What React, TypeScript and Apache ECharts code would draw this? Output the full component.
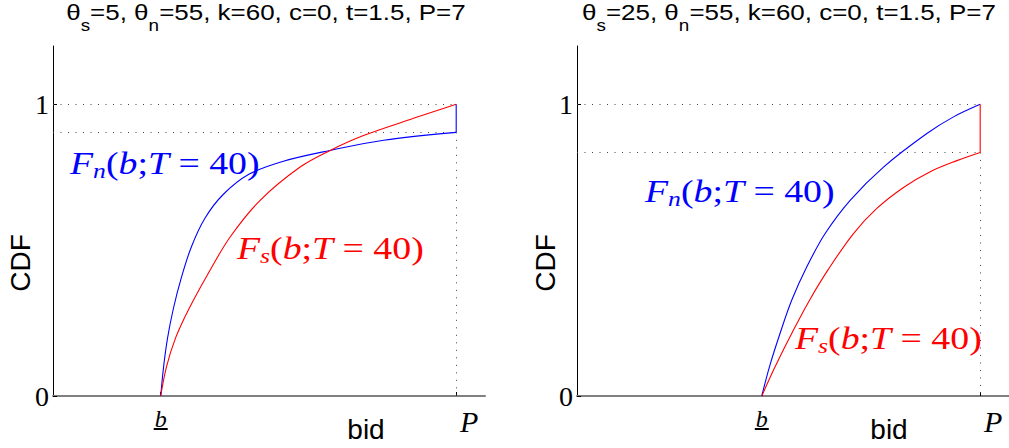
import React, { useEffect, useRef } from "react";
import * as echarts from "echarts";

// Shared model parameters
const P = 7;
const kParam = 60;
const cParam = 0;
const tParam = 1.5;
const thetaN = 55;
const thetaSValues = [5, 25];

// Axis ranges
const bidMax = 7.5;
const cdfMax = 1.2;
const cdfTicks = [0, 1];

// Panel A (θs = 5): lowest bid and both CDFs
const lowBidA = 1.87;
const bidNA = [1.87, 1.92, 1.99, 2.09, 2.22, 2.4, 2.64, 2.95, 3.4, 4.0, 4.81, 5.74, 7.0];
const cdfNA = [0, 0.1, 0.2, 0.3, 0.4, 0.51, 0.61, 0.69, 0.76, 0.805, 0.842, 0.877, 0.904];
const bidSA = [1.87, 1.97, 2.13, 2.35, 2.68, 3.075, 3.596, 4.29, 4.812, 5.39, 6.259, 7.0];
const cdfSA = [0, 0.1, 0.2, 0.295, 0.415, 0.545, 0.671, 0.785, 0.842, 0.893, 0.952, 1.0];

// Panel B (θs = 25)
const lowBidB = 3.208;
const bidNB = [3.208, 3.341, 3.526, 3.729, 3.99, 4.308, 4.742, 5.321, 6.074, 6.537, 7.0];
const cdfNB = [0, 0.1, 0.215, 0.329, 0.443, 0.557, 0.671, 0.785, 0.9, 0.957, 1.0];
const bidSB = [3.208, 3.439, 3.758, 4.047, 4.366, 4.8, 5.205, 5.668, 6.132, 6.595, 7.0];
const cdfSB = [0, 0.1, 0.226, 0.332, 0.435, 0.557, 0.643, 0.715, 0.769, 0.807, 0.835];

const BLUE = "#0000ff";
const RED = "#ff0000";
const SERIF = "Liberation Serif";
const SANS = "Liberation Sans";

const zip = (xs: number[], ys: number[]) => xs.map((x, i) => [x, ys[i]]);

function panelSeries(
  gi: number,
  bn: number[], fn: number[],
  bs: number[], fs: number[],
  jumpColor: string
) {
  const nData = zip(bn, fn);
  const sData = zip(bs, fs);
  const nEnd = fn[fn.length - 1];
  const sEnd = fs[fs.length - 1];
  const low = Math.min(nEnd, sEnd);
  const dotted = { type: [1, 6.5] as any, color: "#444", width: 1 };
  return [
    {
      type: "line", xAxisIndex: gi, yAxisIndex: gi, data: nData,
      smooth: 0.35, showSymbol: false,
      lineStyle: { color: BLUE, width: 1.1 }, z: 3,
    },
    {
      type: "line", xAxisIndex: gi, yAxisIndex: gi, data: sData,
      smooth: 0.35, showSymbol: false,
      lineStyle: { color: RED, width: 1.1 }, z: 3,
    },
    {
      // jump of the CDF that ends below 1 at P
      type: "line", xAxisIndex: gi, yAxisIndex: gi,
      data: [[P, low], [P, 1]], showSymbol: false,
      lineStyle: { color: jumpColor, width: 1.1 }, z: 3,
      markLine: {
        silent: true, symbol: "none", label: { show: false },
        lineStyle: dotted, z: 1,
        data: [
          [{ coord: [0, 1] }, { coord: [P, 1] }],
          [{ coord: [0, low] }, { coord: [P, low] }],
          [{ coord: [P, low] }, { coord: [P, 0] }],
        ],
      },
    },
  ];
}

function xAxisFor(gi: number, lowBid: number) {
  return {
    gridIndex: gi, type: "value", min: 0, max: bidMax,
    axisLine: { show: true, onZero: false, lineStyle: { color: "#808080", width: 2 } },
    axisTick: { show: true, inside: true, length: 4, customValues: [lowBid, P], lineStyle: { color: "#000" } },
    axisLabel: {
      customValues: [lowBid, P], margin: 10,
      formatter: (v: number) => (Math.abs(v - P) < 1e-9 ? "{p|P}" : "{b|b}\n{u| }"),
      rich: {
        p: { fontFamily: SERIF, fontStyle: "italic", fontSize: 30, color: "#000", padding: [0, 0, 0, 26], lineHeight: 30 },
        b: { fontFamily: SERIF, fontStyle: "italic", fontSize: 24, color: "#000", lineHeight: 22, padding: [3, 0, 0, 0] },
        u: { width: 14, height: 2, lineHeight: 2, fontSize: 2, backgroundColor: "#000" },
      },
    },
    splitLine: { show: false },
  };
}

function yAxisFor(gi: number) {
  return {
    gridIndex: gi, type: "value", min: 0, max: cdfMax,
    axisLine: { show: true, lineStyle: { color: "#000", width: 1 } },
    axisTick: { show: true, inside: true, length: 4, customValues: cdfTicks, lineStyle: { color: "#000" } },
    axisLabel: { customValues: cdfTicks, fontFamily: SERIF, fontSize: 28, color: "#000", margin: 4 },
    splitLine: { show: false },
  };
}

function titleText(thetaS: number) {
  return `{m|θ}{s|s}{m|=${thetaS}, θ}{s|n}{m|=${thetaN}, k=${kParam}, c=${cParam}, t=${tParam}, P=${P}}`;
}

const titleRich = {
  m: { fontFamily: SANS, fontSize: 22, lineHeight: 22, fill: "#000" },
  s: { fontFamily: SANS, fontSize: 16, lineHeight: 16, fill: "#000", padding: [27, 0, 0, 0] },
};

function mathLabel(sub: string, color: string) {
  return {
    text: `{i|F}{sub|${sub}}{r|(}{i|b}{r|;}{i|T}{r| = 40)}`,
    rich: {
      i: { fontFamily: SERIF, fontStyle: "italic", fontSize: 31, lineHeight: 31, fill: color },
      r: { fontFamily: SERIF, fontSize: 31, lineHeight: 31, fill: color },
      sub: { fontFamily: SERIF, fontStyle: "italic", fontSize: 21, lineHeight: 21, fill: color, padding: [16, 0, 0, 0] },
    },
  };
}

export default function App() {
  const ref = useRef<HTMLDivElement>(null);

  useEffect(() => {
    if (!ref.current) return;
    const chart = echarts.init(ref.current, undefined, { renderer: "svg" });

    const texts: any[] = [];
    const centers = [266, 789];
    thetaSValues.forEach((ts, i) => {
      texts.push({
        type: "text", x: centers[i], y: 1, scaleX: 1.18,
        style: { text: titleText(ts), rich: titleRich, textAlign: "center", textVerticalAlign: "top" },
      });
    });
    [20, 545].forEach((x) => {
      texts.push({
        type: "text", x, y: 263, rotation: Math.PI / 2,
        style: { text: "CDF", font: `28px ${SANS}`, fill: "#000", textAlign: "center", textVerticalAlign: "middle" },
      });
    });
    [366, 889].forEach((x) => {
      texts.push({
        type: "text", x, y: 429,
        style: { text: "bid", font: `28px ${SANS}`, fill: "#000", textAlign: "center", textVerticalAlign: "middle" },
      });
    });
    const labels = [
      { x: 70, y: 163, sub: "n", color: BLUE },
      { x: 237, y: 248, sub: "s", color: RED },
      { x: 645, y: 191, sub: "n", color: BLUE },
      { x: 795, y: 338, sub: "s", color: RED },
    ];
    labels.forEach((l) => {
      texts.push({
        type: "text", x: l.x, y: l.y, scaleX: 1.22,
        style: { ...mathLabel(l.sub, l.color), textAlign: "left", textVerticalAlign: "middle" },
      });
    });

    chart.setOption({
      animation: false,
      backgroundColor: "#fff",
      grid: [
        { left: 53, top: 46, width: 432, height: 350 },
        { left: 577, top: 46, width: 432, height: 350 },
      ],
      xAxis: [xAxisFor(0, lowBidA), xAxisFor(1, lowBidB)],
      yAxis: [yAxisFor(0), yAxisFor(1)],
      series: [
        ...panelSeries(0, bidNA, cdfNA, bidSA, cdfSA, BLUE),
        ...panelSeries(1, bidNB, cdfNB, bidSB, cdfSB, RED),
      ],
      graphic: texts,
    } as any);

    return () => chart.dispose();
  }, []);

  return (
    <div
      ref={ref}
      style={{ position: "absolute", left: 0, top: 0, width: 1009, height: 448, background: "#fff" }}
    />
  );
}
